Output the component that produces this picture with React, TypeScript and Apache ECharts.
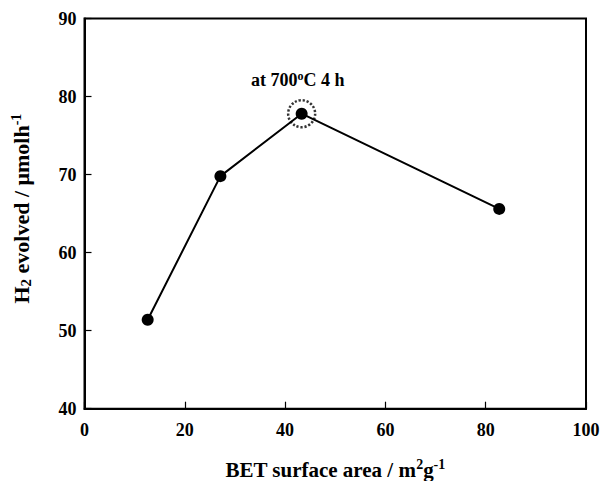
import React, { useEffect, useRef } from "react";
import * as echarts from "echarts";

// BET surface area (m2/g) and H2 evolution rate (µmol/h)
const surfaceArea: number[] = [12.6, 27.1, 43.3, 82.7];
const h2Evolved: number[] = [51.4, 69.8, 77.8, 65.6];
// sample calcined at 700 °C for 4 h
const highlightIndex = 2;
const xTicks = { min: 0, max: 100, interval: 20 };
const yTicks = { min: 40, max: 90, interval: 10 };

const FONT = "'Liberation Serif', 'Times New Roman', serif";

export default function App() {
  const ref = useRef<HTMLDivElement>(null);

  useEffect(() => {
    if (!ref.current) return;
    const chart = echarts.init(ref.current, null, { renderer: "svg" });
    const points = surfaceArea.map((x, i) => [x, h2Evolved[i]]);
    const lineData = points.map((p, i) =>
      i === highlightIndex
        ? {
            value: p,
            label: {
              show: true,
              position: "top",
              distance: 17,
              offset: [-4, 0],
              formatter: "at 700{sup|o}C 4 h",
              color: "#000",
              fontFamily: FONT,
              fontWeight: "bold",
              fontSize: 18,
              rich: {
                sup: { fontFamily: FONT, fontWeight: "bold", fontSize: 12, padding: [0, 0, 9, 0], color: "#000" },
              },
            },
          }
        : p
    );
    const axisCommon = {
      axisLine: { show: true, onZero: false, lineStyle: { color: "#000", width: 2 } },
      axisTick: { show: true, inside: true, length: 7, lineStyle: { color: "#000", width: 1.2 } },
      splitLine: { show: false },
      axisLabel: {
        color: "#000",
        fontFamily: FONT,
        fontWeight: "bold" as const,
        fontSize: 18,
      },
    };
    chart.setOption({
      animation: false,
      backgroundColor: "#fff",
      grid: {
        left: 84.5,
        right: 17,
        top: 18.5,
        bottom: 72.3,
        outerBoundsMode: "none",
        containLabel: false,
        show: true,
        borderColor: "#000",
        borderWidth: 2,
        backgroundColor: "transparent",
      },
      xAxis: {
        type: "value",
        ...xTicks,
        ...axisCommon,
        axisLabel: { ...axisCommon.axisLabel, margin: 12 },
        name: "BET surface area / m{sup|2}g{sup|-1}",
        nameLocation: "middle",
        nameGap: 49,
        nameTextStyle: {
          color: "#000",
          fontFamily: FONT,
          fontWeight: "bold",
          fontSize: 21,
          rich: {
            sup: { fontFamily: FONT, fontWeight: "bold", fontSize: 14, verticalAlign: "top", padding: [0, 0, 10, 0], color: "#000" },
          },
        },
      },
      yAxis: {
        type: "value",
        ...yTicks,
        ...axisCommon,
        axisLabel: { ...axisCommon.axisLabel, margin: 8 },
        name: "H{sub|2} evolved / μmolh{sup|-1}",
        nameLocation: "middle",
        nameGap: 51,
        nameTextStyle: {
          color: "#000",
          fontFamily: FONT,
          fontWeight: "bold",
          fontSize: 22,
          padding: [0, 0, 0, 10],
          rich: {
            sub: { fontFamily: FONT, fontWeight: "bold", fontSize: 15, padding: [8, 0, 0, 0], color: "#000" },
            sup: { fontFamily: FONT, fontWeight: "bold", fontSize: 14, padding: [0, 0, 10, 0], color: "#000" },
          },
        },
      },
      series: [
        {
          type: "line",
          data: lineData,
          symbol: "circle",
          symbolSize: 12,
          showSymbol: true,
          lineStyle: { color: "#000", width: 2 },
          itemStyle: { color: "#000" },
          z: 3,
        },
        {
          // dotted ring marking the 700 °C / 4 h sample
          type: "scatter",
          data: [points[highlightIndex]],
          symbol: "circle",
          symbolSize: 27,
          itemStyle: {
            color: "rgba(0,0,0,0)",
            borderColor: "#000",
            borderWidth: 2.5,
            borderType: [2.2, 1.8],
          },
          z: 4,
        },
      ],
    });
    return () => chart.dispose();
  }, []);

  return (
    <div
      ref={ref}
      style={{ position: "absolute", left: 0, top: 0, width: 603, height: 481 }}
    />
  );
}
